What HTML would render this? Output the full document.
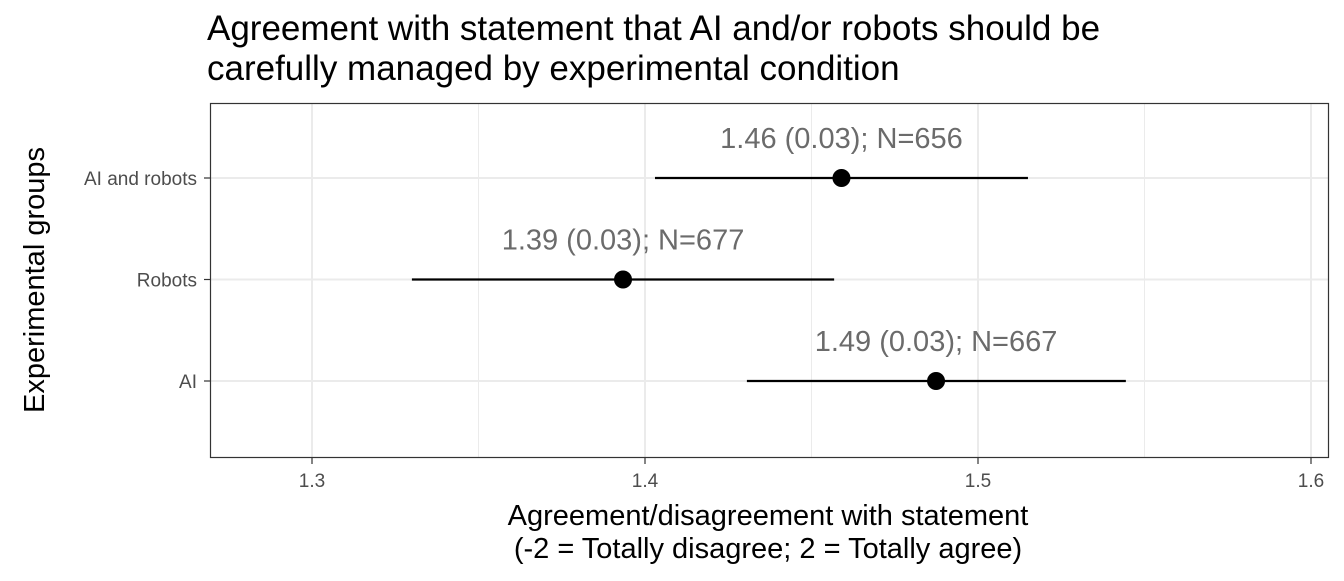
<!DOCTYPE html>
<html><head><meta charset="utf-8"><style>
body{margin:0;background:#fff;}
svg text{font-family:"Liberation Sans",Arial,sans-serif;}
</style></head><body>
<svg id="chart" width="1344" height="576" xmlns="http://www.w3.org/2000/svg">
<text x="207" y="40" font-size="35" fill="#000">Agreement with statement that AI and/or robots should be</text>
<text x="207" y="80" font-size="35" fill="#000">carefully managed by experimental condition</text>
<g id="grid"></g>
<g id="marks"></g>
<rect x="210.5" y="103.5" width="1118" height="354" fill="none" stroke="#333" stroke-width="1.2"/>
<g id="axes"></g>
<text x="768" y="525" font-size="29" text-anchor="middle" fill="#000">Agreement/disagreement with statement</text>
<text x="768" y="558" font-size="29" text-anchor="middle" fill="#000">(-2 = Totally disagree; 2 = Totally agree)</text>
<text transform="translate(44,280) rotate(-90)" font-size="29" text-anchor="middle" fill="#000">Experimental groups</text>
</svg>
<script>
const categories = ["AI and robots", "Robots", "AI"];
const means = [1.459, 1.3934, 1.4874];
const lows = [1.403, 1.330, 1.4306];
const highs = [1.515, 1.4568, 1.5444];
const labels = ["1.46 (0.03); N=656", "1.39 (0.03); N=677", "1.49 (0.03); N=667"];
const xTicks = [1.3, 1.4, 1.5, 1.6];
const xMinor = [1.35, 1.45, 1.55];

const NS = "http://www.w3.org/2000/svg";
const x = v => 312 + (v - 1.3) * 3330;
const y = i => 178 + i * 101.5;
function mk(parent, tag, attrs, txt){
  const e = document.createElementNS(NS, tag);
  for (const k in attrs) e.setAttribute(k, attrs[k]);
  if (txt !== undefined) e.textContent = txt;
  document.getElementById(parent).appendChild(e);
  return e;
}
xMinor.forEach(v=>{
  const e = mk("grid","line",{x1:x(v),x2:x(v),y1:104,y2:457,stroke:"#ebebeb","stroke-width":1});
  
  
});
xTicks.forEach(v=>{
  const e = mk("grid","line",{x1:x(v),x2:x(v),y1:104,y2:457,stroke:"#ebebeb","stroke-width":2});
  
  
  const t = mk("axes","line",{x1:x(v),x2:x(v),y1:458,y2:464,stroke:"#333","stroke-width":1.2});
  
  
  const l = mk("axes","text",{x:x(v),y:487,"font-size":19,"text-anchor":"middle",fill:"#4d4d4d"}, String(v));
  
  
});
categories.forEach((c,i)=>{
  const g = mk("grid","line",{x1:211,x2:1328,y1:y(i),y2:y(i),stroke:"#ebebeb","stroke-width":2});
  
  
  const t = mk("axes","line",{x1:204,x2:210,y1:y(i),y2:y(i),stroke:"#333","stroke-width":1.2});
  
  
  const l = mk("axes","text",{x:197,y:y(i)+7,"font-size":19,"text-anchor":"end",fill:"#4d4d4d"}, c);
  
  
  const e = mk("marks","line",{x1:x(lows[i]),x2:x(highs[i]),y1:y(i),y2:y(i),stroke:"#000","stroke-width":2.2});
  
  
  const p = mk("marks","circle",{cx:x(means[i]),cy:y(i),r:9,fill:"#000"});
  
  
  const a = mk("marks","text",{x:x(means[i]),y:y(i)-30,"font-size":29,"text-anchor":"middle",fill:"#6b6b6b"}, labels[i]);
  
  
});
</script>
</body></html>
